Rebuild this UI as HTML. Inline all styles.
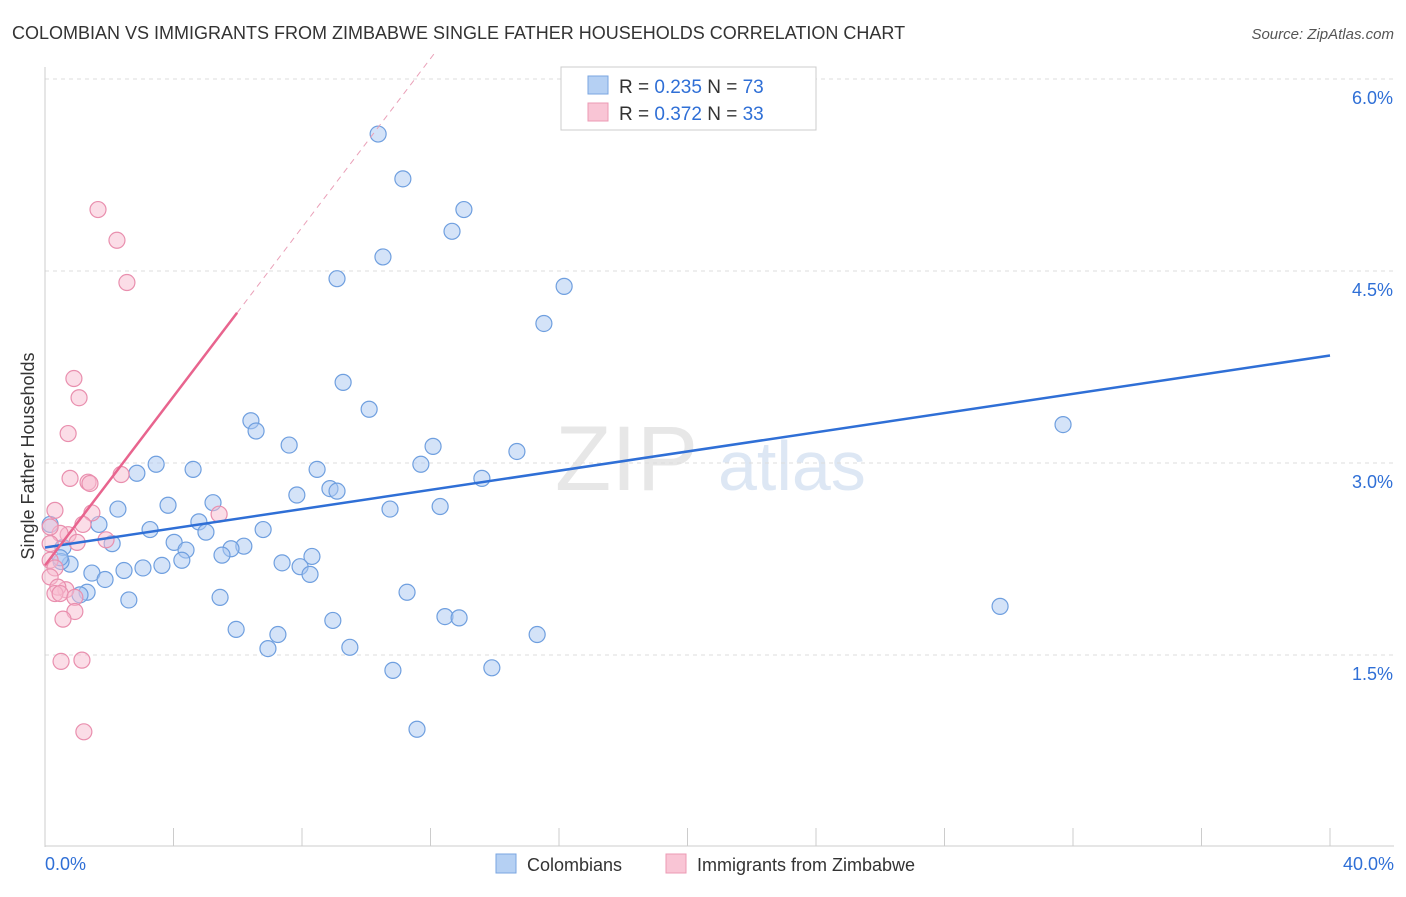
<!DOCTYPE html>
<html><head><meta charset="utf-8"><style>
body{margin:0;background:#fff;font-family:"Liberation Sans",sans-serif}
svg text{font-family:"Liberation Sans",sans-serif}
</style></head><body>
<svg id="c" width="1406" height="892" viewBox="0 0 1406 892">
<text x="12" y="39" font-size="18" fill="#333">COLOMBIAN VS IMMIGRANTS FROM ZIMBABWE SINGLE FATHER HOUSEHOLDS CORRELATION CHART</text>
<text x="1394" y="39" font-size="15" fill="#555" font-style="italic" text-anchor="end">Source: ZipAtlas.com</text>
<text transform="translate(34,456) rotate(-90)" font-size="18" fill="#333" text-anchor="middle">Single Father Households</text>
<g><text x="555" y="490" font-size="92" fill="#ddd" font-family="Liberation Serif" opacity="0.7">ZIP</text><text x="718" y="490" font-size="70" fill="#c8d8ee" opacity="0.6">atlas</text></g>
<g id="grid"></g><g id="axes"></g><g id="pts"></g><g id="lines"></g>
<g>
<rect x="561" y="67" width="255" height="63" fill="#fff" stroke="#ccc"/>
<rect x="588" y="76" width="20" height="18" fill="#b5d0f3" stroke="#7aa6e0"/>
<rect x="588" y="103" width="20" height="18" fill="#f9c5d5" stroke="#ec9ab4"/>
<text x="619" y="93" font-size="19" fill="#333">R = <tspan fill="#2f6fd6">0.235</tspan>   N = <tspan fill="#2f6fd6">73</tspan></text>
<text x="619" y="120" font-size="19" fill="#333">R = <tspan fill="#2f6fd6">0.372</tspan>   N = <tspan fill="#2f6fd6">33</tspan></text>
</g>
<g>
<rect x="496" y="854" width="20" height="19" fill="#b5d0f3" stroke="#7aa6e0"/>
<text x="527" y="871" font-size="18" fill="#333">Colombians</text>
<rect x="666" y="854" width="20" height="19" fill="#f9c5d5" stroke="#ec9ab4"/>
<text x="697" y="871" font-size="18" fill="#333">Immigrants from Zimbabwe</text>
</g>
</svg>
<script>
const yTicks=[1.5,3.0,4.5,6.0];
const yTickLabels=["1.5%","3.0%","4.5%","6.0%"];
const xTickLabels=["0.0%","40.0%"];
const blueX=[10.37,11.14,13.04,12.67,10.52,9.09,16.16,15.53,9.28,10.09,6.41,6.57,7.60,12.08,14.69,3.46,4.61,2.86,11.70,8.47,13.60,8.87,9.09,7.84,5.23,3.83,2.27,10.74,12.30,1.68,3.27,4.79,5.01,6.79,2.09,4.02,4.39,6.19,5.79,0.56,5.51,8.31,4.26,3.64,3.05,2.46,0.78,0.50,7.38,7.94,8.25,1.46,1.87,1.31,1.09,2.61,5.45,11.27,29.73,12.45,12.89,8.96,5.95,7.25,15.32,9.49,6.94,10.83,13.91,11.58,31.69,0.16,0.47];
const blueY=[5.57,5.22,4.98,4.81,4.61,4.44,4.38,4.09,3.63,3.42,3.33,3.25,3.14,3.13,3.09,2.99,2.95,2.92,2.99,2.95,2.88,2.80,2.78,2.75,2.69,2.67,2.64,2.64,2.66,2.52,2.48,2.54,2.46,2.48,2.37,2.38,2.32,2.35,2.33,2.34,2.28,2.27,2.24,2.20,2.18,2.16,2.21,2.23,2.22,2.19,2.13,2.14,2.09,1.99,1.97,1.93,1.95,1.99,1.88,1.80,1.79,1.77,1.70,1.66,1.66,1.56,1.55,1.38,1.40,0.92,3.30,2.52,2.26];
const pinkX=[1.65,2.24,2.55,0.90,1.06,0.72,0.78,1.34,1.40,2.37,5.42,0.31,1.46,1.18,0.72,0.47,1.00,1.90,0.16,0.31,0.16,0.65,0.40,0.31,0.47,0.93,0.93,0.56,0.50,1.15,1.21,0.16,0.16];
const pinkY=[4.98,4.74,4.41,3.66,3.51,3.23,2.88,2.85,2.84,2.91,2.60,2.63,2.61,2.52,2.44,2.45,2.38,2.40,2.24,2.18,2.11,2.01,2.03,1.98,1.98,1.95,1.84,1.78,1.45,1.46,0.90,2.50,2.37];
const blueTrend=[2.34,0.0375];
const pinkTrend=[2.20,0.33];
const X=v=>45+v*32.125, Y=v=>847-v*128;
const NS="http://www.w3.org/2000/svg";
function mk(t,a,p){const e=document.createElementNS(NS,t);for(const k in a)e.setAttribute(k,a[k]);p.appendChild(e);return e;}
const grid=document.getElementById('grid'),axes=document.getElementById('axes'),pts=document.getElementById('pts'),lines=document.getElementById('lines');
yTicks.forEach((t,i)=>{
 const g=mk('line',{x1:45,x2:1394,y1:Y(t),y2:Y(t),stroke:'#ddd','stroke-dasharray':'4,4'},grid);
 
 
 const l=mk('text',{x:1393,y:Y(t)+25,'font-size':18,fill:'#2f6fd6','text-anchor':'end'},axes);
 l.textContent=yTickLabels[i];
 
 
});
const ya=mk('line',{x1:45,x2:45,y1:67,y2:847,stroke:'#ccc'},axes);


const xa=mk('line',{x1:45,x2:1394,y1:846,y2:846,stroke:'#ccc'},axes);


for(let i=0;i<=10;i++){const t=mk('line',{x1:X(i*4),x2:X(i*4),y1:828,y2:846,stroke:'#ccc'},axes);
 
 }
[[0,45,'start'],[40,1394,'end']].forEach((d,i)=>{const t=mk('text',{x:d[1],y:870,'font-size':18,fill:'#2f6fd6','text-anchor':d[2]},axes);t.textContent=xTickLabels[i];
 
 });
function dots(xs,ys,fill,stroke,name){xs.forEach((x,i)=>{const c=mk('circle',{cx:X(x),cy:Y(ys[i]),r:8,fill:fill,'fill-opacity':0.5,stroke:stroke,'stroke-width':1.2},pts);
 
 });}
dots(blueX,blueY,'#a9c8f2','#6f9fdf','colombian-point');
dots(pinkX,pinkY,'#f8bcd0','#e98fae','zimbabwe-point');
const bl=mk('line',{x1:X(0),y1:Y(blueTrend[0]),x2:X(40),y2:Y(blueTrend[0]+40*blueTrend[1]),stroke:'#2f6fd6','stroke-width':2.5},lines);


const pe=5.98;
const pl=mk('line',{x1:X(0),y1:Y(pinkTrend[0]),x2:X(pe),y2:Y(pinkTrend[0]+pe*pinkTrend[1]),stroke:'#e8648e','stroke-width':2.5},lines);


const pe2=(6.2-pinkTrend[0])/pinkTrend[1];
const pd=mk('line',{x1:X(pe),y1:Y(pinkTrend[0]+pe*pinkTrend[1]),x2:X(pe2),y2:Y(6.2),stroke:'#eaa0b8','stroke-width':1,'stroke-dasharray':'6,5'},lines);


</script>
</body></html>
